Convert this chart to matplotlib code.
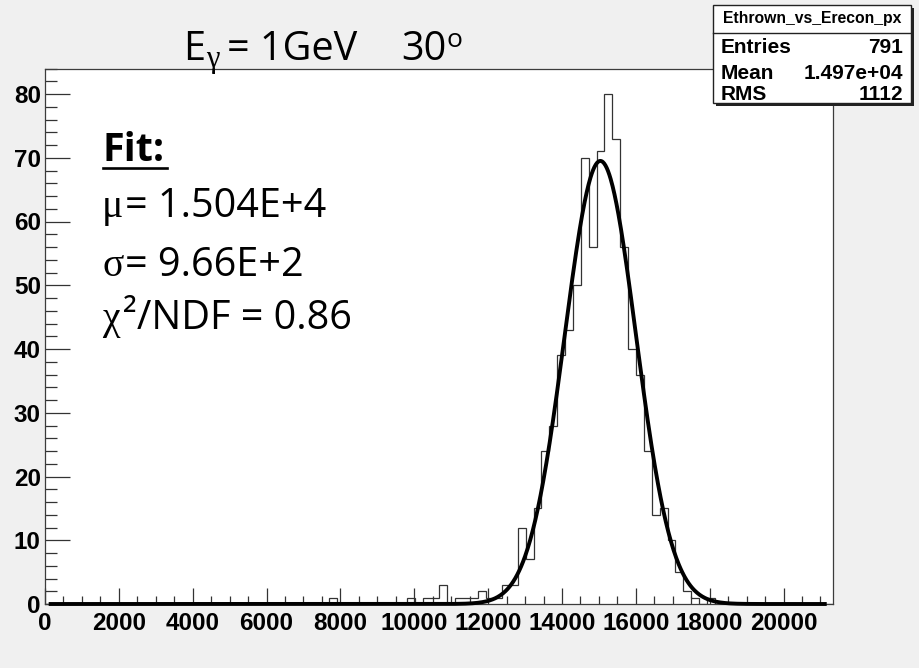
import matplotlib
matplotlib.use("Agg")

import numpy as np
import matplotlib.pyplot as plt
import matplotlib.ticker as ticker
from matplotlib.patches import Rectangle
from matplotlib.lines import Line2D

# ── Figure size (pixels) ─────────────────────────────────────────────────────
W, H, DPI = 919, 668, 100

# ── Histogram ────────────────────────────────────────────────────────────────
X_MIN, X_MAX = 0.0, 21340.0
N_BINS = 100
Y_MAX = 84.0

# non-empty bins: bin index -> entries
BIN_INDEX = [36, 46, 48, 49, 50, 52, 53, 54, 55, 56, 57, 58, 59,
             60, 61, 62, 63, 64, 65, 66, 67, 68, 69, 70, 71, 72, 73,
             74, 75, 76, 77, 78, 79, 80, 81, 82, 84]
BIN_COUNT = [1, 1, 1, 1, 3, 1, 1, 1, 2, 1, 1, 3, 3,
             12, 7, 15, 24, 28, 39, 43, 50, 70, 56, 71, 80, 73, 56,
             40, 36, 24, 14, 15, 10, 5, 2, 1, 1]

# ── Gaussian fit (parameters from the annotation) ────────────────────────────
FIT_MU = 1.504e4
FIT_SIGMA = 9.66e2
FIT_AMP = 69.5
FIT_LO, FIT_HI = 100.0, 21170.0

# ── Stats box ────────────────────────────────────────────────────────────────
STATS_TITLE = "Ethrown_vs_Erecon_px"
STATS_NAMES = ["Entries", "Mean", "RMS"]
STATS_VALUES = ["791", "1.497e+04", "1112"]

X_TICK_STEP, X_MINOR_STEP = 2000, 500
Y_TICK_STEP, Y_MINOR_STEP = 10, 2

BG = "#f0f0f0"
INK = "#333333"


def fx(x):
    return x / W


def fy(y):
    return 1.0 - y / H


plt.rcParams["font.family"] = "Liberation Sans"
plt.rcParams["font.weight"] = "bold"

fig = plt.figure(figsize=(W / DPI, H / DPI), dpi=DPI, facecolor=BG)

# frame: left 45, right 833, top 68.5, bottom 604 (px)
ax = fig.add_axes([fx(45), fy(604), fx(833) - fx(45), fy(68.5) - fy(604)])
ax.set_facecolor("white")

edges = np.linspace(X_MIN, X_MAX, N_BINS + 1)
counts = np.zeros(N_BINS)
counts[BIN_INDEX] = BIN_COUNT
ax.stairs(counts, edges, color=INK, linewidth=0.9, zorder=2)

xf = np.linspace(FIT_LO, FIT_HI, 1200)
yf = FIT_AMP * np.exp(-0.5 * ((xf - FIT_MU) / FIT_SIGMA) ** 2)
ax.plot(xf, yf, color="black", linewidth=2.8, zorder=3, clip_on=False,
        solid_capstyle="butt")

ax.set_xlim(X_MIN, X_MAX)
ax.set_ylim(0, Y_MAX)

ax.xaxis.set_major_locator(ticker.MultipleLocator(X_TICK_STEP))
ax.xaxis.set_minor_locator(ticker.MultipleLocator(X_MINOR_STEP))
ax.yaxis.set_major_locator(ticker.MultipleLocator(Y_TICK_STEP))
ax.yaxis.set_minor_locator(ticker.MultipleLocator(Y_MINOR_STEP))

ax.tick_params(axis="x", which="major", direction="in", length=11.5, width=0.9,
               color=INK, labelsize=17.5, pad=6, top=False)
ax.tick_params(axis="x", which="minor", direction="in", length=5.8, width=0.9,
               color=INK, top=False)
ax.tick_params(axis="y", which="major", direction="in", length=18, width=0.9,
               color=INK, labelsize=17.5, pad=3, right=False)
ax.tick_params(axis="y", which="minor", direction="in", length=8.6, width=0.9,
               color=INK, right=False)

for s in ax.spines.values():
    s.set_color("#3c3c3c")
    s.set_linewidth(0.9)

# ── Stats box (ROOT style, with shadow) ──────────────────────────────────────
bx0, by0, bx1, by1 = 713, 5, 911, 103
fig.patches.append(Rectangle((fx(bx0 + 3), fy(by1 + 3)), fx(bx1 - bx0), fy(by0) - fy(by1),
                             transform=fig.transFigure, facecolor="#222222",
                             edgecolor="none", zorder=5))
fig.patches.append(Rectangle((fx(bx0), fy(by1)), fx(bx1 - bx0), fy(by0) - fy(by1),
                             transform=fig.transFigure, facecolor="white",
                             edgecolor="#222222", linewidth=1.0, zorder=6))
fig.lines.append(Line2D([fx(bx0), fx(bx1)], [fy(33), fy(33)], transform=fig.transFigure,
                        color="#222222", linewidth=1.0, zorder=7))
fig.text(fx((bx0 + bx1) / 2), fy(23), STATS_TITLE, ha="center", va="baseline",
         fontsize=11.3, fontweight="bold", zorder=8)
for name, val, base in zip(STATS_NAMES, STATS_VALUES, [53, 79, 100]):
    fig.text(fx(721), fy(base), name, ha="left", va="baseline",
             fontsize=15, fontweight="bold", zorder=8)
    fig.text(fx(903), fy(base), val, ha="right", va="baseline",
             fontsize=15, fontweight="bold", zorder=8)

# ── Slide annotations ────────────────────────────────────────────────────────
SANS = "Open Sans"
SERIF = "Liberation Serif"
FS = 28.5

fig.text(fx(183), fy(60), "E", family=SANS, fontweight="normal", fontsize=FS, va="baseline")
fig.text(fx(206), fy(67), "γ", family=SERIF, fontweight="normal", fontsize=22, va="baseline")
fig.text(fx(227), fy(60), "= 1GeV", family=SANS, fontweight="normal", fontsize=FS, va="baseline")
fig.text(fx(401), fy(60), "30", family=SANS, fontweight="normal", fontsize=FS, va="baseline")
fig.text(fx(447), fy(47), "o", family=SANS, fontweight="normal", fontsize=19, va="baseline")

fig.text(fx(102), fy(161), "Fit:", family=SANS, fontweight="bold", fontsize=FS, va="baseline")
fig.lines.append(Line2D([fx(103), fx(167)], [fy(168), fy(168)], transform=fig.transFigure,
                        color="black", linewidth=1.9))

fig.text(fx(102), fy(217), "μ", family=SERIF, fontweight="normal", fontsize=FS, va="baseline")
fig.text(fx(125), fy(217), "= 1.504E+4", family=SANS, fontweight="normal", fontsize=FS, va="baseline")
fig.text(fx(102), fy(276), "σ", family=SERIF, fontweight="normal", fontsize=FS, va="baseline")
fig.text(fx(125), fy(276), "= 9.66E+2", family=SANS, fontweight="normal", fontsize=FS, va="baseline")
fig.text(fx(102), fy(329), "χ", family=SERIF, fontweight="normal", fontsize=FS, va="baseline")
fig.text(fx(123), fy(329), "²/NDF = 0.86", family=SANS, fontweight="normal", fontsize=FS, va="baseline")

fig.savefig("out.png", dpi=DPI, facecolor=BG)
plt.close(fig)
